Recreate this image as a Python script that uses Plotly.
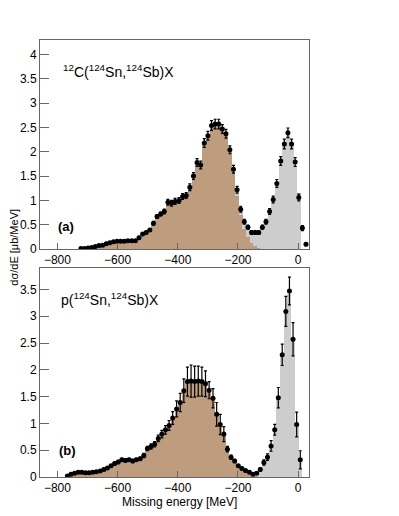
import plotly.graph_objects as go

# ---- panel (a): 12C(124Sn,124Sb)X ----
energy_a = [-722, -710, -698, -686, -674, -662, -650, -638, -626, -614,
            -602, -590, -578, -566, -553, -541, -529, -517, -505, -493,
            -481, -469, -457, -445, -433, -421, -409, -396, -384, -372,
            -360, -348, -336, -324, -312, -300, -288, -276, -264, -252,
            -240, -227, -215, -203, -191, -179, -167, -155, -143, -131,
            -119, -107, -95, -83, -71, -58, -46, -34, -22, -10,
            2, 14, 26]
data_a = [0.01, 0.01, 0.02, 0.03, 0.05, 0.07, 0.08, 0.11, 0.13, 0.15,
          0.16, 0.16, 0.16, 0.17, 0.17, 0.17, 0.23, 0.31, 0.34, 0.39,
          0.53, 0.67, 0.72, 0.77, 0.96, 0.94, 0.98, 1.00, 1.08, 1.10,
          1.27, 1.50, 1.78, 1.73, 2.18, 2.33, 2.54, 2.57, 2.57, 2.47,
          2.37, 2.04, 1.64, 1.22, 0.82, 0.56, 0.45, 0.34, 0.34, 0.34,
          0.45, 0.56, 0.77, 1.02, 1.35, 1.81, 2.16, 2.39, 2.16, 1.79,
          1.06, 0.43, 0.10]
err_a = [0.01, 0.01, 0.01, 0.01, 0.01, 0.02, 0.02, 0.02, 0.02, 0.02,
         0.02, 0.02, 0.02, 0.02, 0.02, 0.02, 0.03, 0.03, 0.03, 0.03,
         0.04, 0.04, 0.04, 0.05, 0.06, 0.06, 0.06, 0.06, 0.06, 0.06,
         0.07, 0.07, 0.08, 0.08, 0.09, 0.09, 0.10, 0.10, 0.10, 0.09,
         0.09, 0.08, 0.08, 0.07, 0.06, 0.05, 0.04, 0.04, 0.04, 0.04,
         0.04, 0.05, 0.06, 0.07, 0.08, 0.09, 0.10, 0.10, 0.10, 0.09,
         0.07, 0.05, 0.03]
# inelastic (brown) component and quasi-elastic (grey) component stacked on top
brown_a = [0.01, 0.01, 0.02, 0.03, 0.05, 0.07, 0.08, 0.11, 0.13, 0.15,
           0.16, 0.16, 0.16, 0.17, 0.17, 0.17, 0.23, 0.31, 0.34, 0.39,
           0.53, 0.67, 0.72, 0.77, 0.96, 0.94, 0.98, 1.00, 1.08, 1.10,
           1.27, 1.50, 1.78, 1.73, 2.18, 2.33, 2.54, 2.57, 2.57, 2.47,
           2.37, 2.00, 1.58, 1.10, 0.70, 0.42, 0.25, 0.13, 0.06, 0.03,
           0.01, 0, 0, 0, 0, 0, 0, 0, 0, 0,
           0, 0, 0]
grey_a = [0, 0, 0, 0, 0, 0, 0, 0, 0, 0,
          0, 0, 0, 0, 0, 0, 0, 0, 0, 0,
          0, 0, 0, 0, 0, 0, 0, 0, 0, 0,
          0, 0, 0, 0, 0, 0, 0, 0, 0, 0,
          0, 0.04, 0.06, 0.10, 0.12, 0.13, 0.18, 0.20, 0.26, 0.30,
          0.43, 0.55, 0.75, 1.00, 1.33, 1.80, 2.17, 2.40, 2.17, 1.70,
          1.16, 0, 0]

# ---- panel (b): p(124Sn,124Sb)X ----
energy_b = [-767, -755, -743, -731, -719, -707, -695, -683, -671, -658,
            -646, -634, -622, -610, -598, -586, -574, -562, -550, -538,
            -525, -513, -501, -489, -477, -465, -453, -441, -429, -417,
            -404, -392, -380, -368, -356, -344, -332, -320, -308, -296,
            -283, -271, -259, -247, -235, -223, -211, -199, -187, -175,
            -162, -150, -138, -126, -114, -102, -90, -78, -66, -53,
            -41, -29, -17, -5, 7]
data_b = [0.02, 0.05, 0.07, 0.09, 0.09, 0.08, 0.08, 0.09, 0.10, 0.11,
          0.14, 0.17, 0.21, 0.25, 0.28, 0.32, 0.31, 0.32, 0.30, 0.32,
          0.34, 0.40, 0.53, 0.57, 0.61, 0.72, 0.80, 0.88, 0.96, 1.10,
          1.27, 1.39, 1.61, 1.78, 1.79, 1.78, 1.79, 1.78, 1.74, 1.62,
          1.47, 1.17, 0.98, 0.80, 0.52, 0.37, 0.30, 0.21, 0.16, 0.12,
          0.09, 0.05, 0.07, 0.14, 0.27, 0.37, 0.58, 0.88, 1.48, 2.28,
          3.09, 3.47, 2.57, 0.98, 0.32]
err_b = [0.02, 0.02, 0.02, 0.02, 0.02, 0.02, 0.02, 0.02, 0.02, 0.02,
         0.02, 0.02, 0.02, 0.03, 0.03, 0.03, 0.03, 0.03, 0.03, 0.03,
         0.03, 0.04, 0.04, 0.05, 0.05, 0.06, 0.07, 0.08, 0.09, 0.12,
         0.15, 0.17, 0.22, 0.27, 0.30, 0.29, 0.28, 0.27, 0.24, 0.16,
         0.18, 0.22, 0.19, 0.14, 0.05, 0.04, 0.03, 0.02, 0.02, 0.02,
         0.02, 0.02, 0.02, 0.03, 0.05, 0.06, 0.10, 0.10, 0.19, 0.20,
         0.28, 0.26, 0.31, 0.23, 0.17]
brown_b = [0.02, 0.05, 0.07, 0.09, 0.09, 0.08, 0.08, 0.09, 0.10, 0.11,
           0.14, 0.17, 0.21, 0.25, 0.28, 0.32, 0.31, 0.32, 0.30, 0.32,
           0.34, 0.40, 0.53, 0.57, 0.61, 0.72, 0.80, 0.88, 0.96, 1.10,
           1.27, 1.39, 1.61, 1.78, 1.79, 1.78, 1.79, 1.78, 1.74, 1.62,
           1.47, 1.17, 0.98, 0.78, 0.52, 0.37, 0.30, 0.20, 0.15, 0.10,
           0.06, 0.03, 0.01, 0, 0, 0, 0, 0, 0, 0,
           0, 0, 0, 0, 0]
grey_b = [0, 0, 0, 0, 0, 0, 0, 0, 0, 0,
          0, 0, 0, 0, 0, 0, 0, 0, 0, 0,
          0, 0, 0, 0, 0, 0, 0, 0, 0, 0,
          0, 0, 0, 0, 0, 0, 0, 0, 0, 0,
          0, 0, 0, 0, 0, 0, 0, 0.01, 0.01, 0.02,
          0.03, 0.03, 0.06, 0.13, 0.26, 0.37, 0.57, 0.87, 1.45, 2.25,
          3.05, 3.42, 2.58, 1.00, 0.35]

BIN_W = 13  # slightly wider than the 12.1 MeV bins so neighbours leave no seam
BROWN = '#be9c7e'
GREY = '#cdcdcd'
FONT = 'Liberation Sans, Arial, Helvetica, sans-serif'

fig = go.Figure()

panels = [(energy_a, data_a, err_a, brown_a, grey_a, 'x', 'y'),
          (energy_b, data_b, err_b, brown_b, grey_b, 'x2', 'y2')]

for energy, vals, errs, brown, grey, xa, ya in panels:
    fig.add_trace(go.Bar(x=energy, y=brown, width=BIN_W, marker_color=BROWN,
                         marker_line_width=0, xaxis=xa, yaxis=ya, showlegend=False))
    fig.add_trace(go.Bar(x=energy, y=grey, width=BIN_W, marker_color=GREY,
                         marker_line_width=0, xaxis=xa, yaxis=ya, showlegend=False))
    fig.add_trace(go.Scatter(x=energy, y=vals, mode='markers', xaxis=xa, yaxis=ya,
                             marker=dict(color='black', size=5),
                             error_y=dict(type='data', array=errs, color='black',
                                          thickness=1.2, width=1.5),
                             showlegend=False))

axis_common = dict(showline=True, mirror=True, linecolor='#666666', linewidth=1,
                   showgrid=False, zeroline=False, ticks='inside', tickcolor='#666666',
                   tickfont=dict(family=FONT, size=12, color='black'))

# the page body adds an 8 px margin, so the figure is 8 px smaller on each axis
fig.update_layout(
    width=391, height=508,
    margin=dict(l=28, r=90, t=32, b=39),
    paper_bgcolor='white', plot_bgcolor='white',
    barmode='stack', bargap=0,
    font=dict(family=FONT, color='black'),
    xaxis=dict(axis_common, anchor='y', domain=[0, 1], range=[-858, 36],
               tickvals=[-800, -600, -400, -200, 0], ticklen=6),
    yaxis=dict(axis_common, anchor='x', domain=[0.5217, 1], range=[0, 4.3],
               dtick=0.5, ticklen=9),
    xaxis2=dict(axis_common, anchor='y2', domain=[0, 1], range=[-858, 36],
                tickvals=[-800, -600, -400, -200, 0], ticklen=6),
    yaxis2=dict(axis_common, anchor='x2', domain=[0, 0.4783], range=[0, 3.9],
                dtick=0.5, ticklen=9),
)

annotations = [
    dict(text='<sup>12</sup>C(<sup>124</sup>Sn,<sup>124</sup>Sb)X', xref='x domain', yref='y domain',
         x=0.077, y=0.852, xanchor='left', yanchor='middle', showarrow=False,
         font=dict(size=14, family=FONT)),
    dict(text='<b>(a)</b>', xref='x domain', yref='y domain',
         x=0.058, y=0.11, xanchor='left', yanchor='middle', showarrow=False,
         font=dict(size=13, family=FONT)),
    dict(text='p(<sup>124</sup>Sn,<sup>124</sup>Sb)X', xref='x2 domain', yref='y2 domain',
         x=0.07, y=0.853, xanchor='left', yanchor='middle', showarrow=False,
         font=dict(size=14, family=FONT)),
    dict(text='<b>(b)</b>', xref='x2 domain', yref='y2 domain',
         x=0.062, y=0.129, xanchor='left', yanchor='middle', showarrow=False,
         font=dict(size=13, family=FONT)),
    dict(text='Missing energy [MeV]', xref='paper', yref='paper',
         x=0.52, y=-0.058, xanchor='center', yanchor='middle', showarrow=False,
         font=dict(size=12, family=FONT)),
    dict(text='dσ/dE [μb/MeV]', xref='paper', yref='paper',
         x=-0.1, y=0.525, xanchor='center', yanchor='middle', showarrow=False,
         textangle=-90, font=dict(size=11, family=FONT)),
]
fig.update_layout(annotations=annotations)

fig.write_html("out.html")
